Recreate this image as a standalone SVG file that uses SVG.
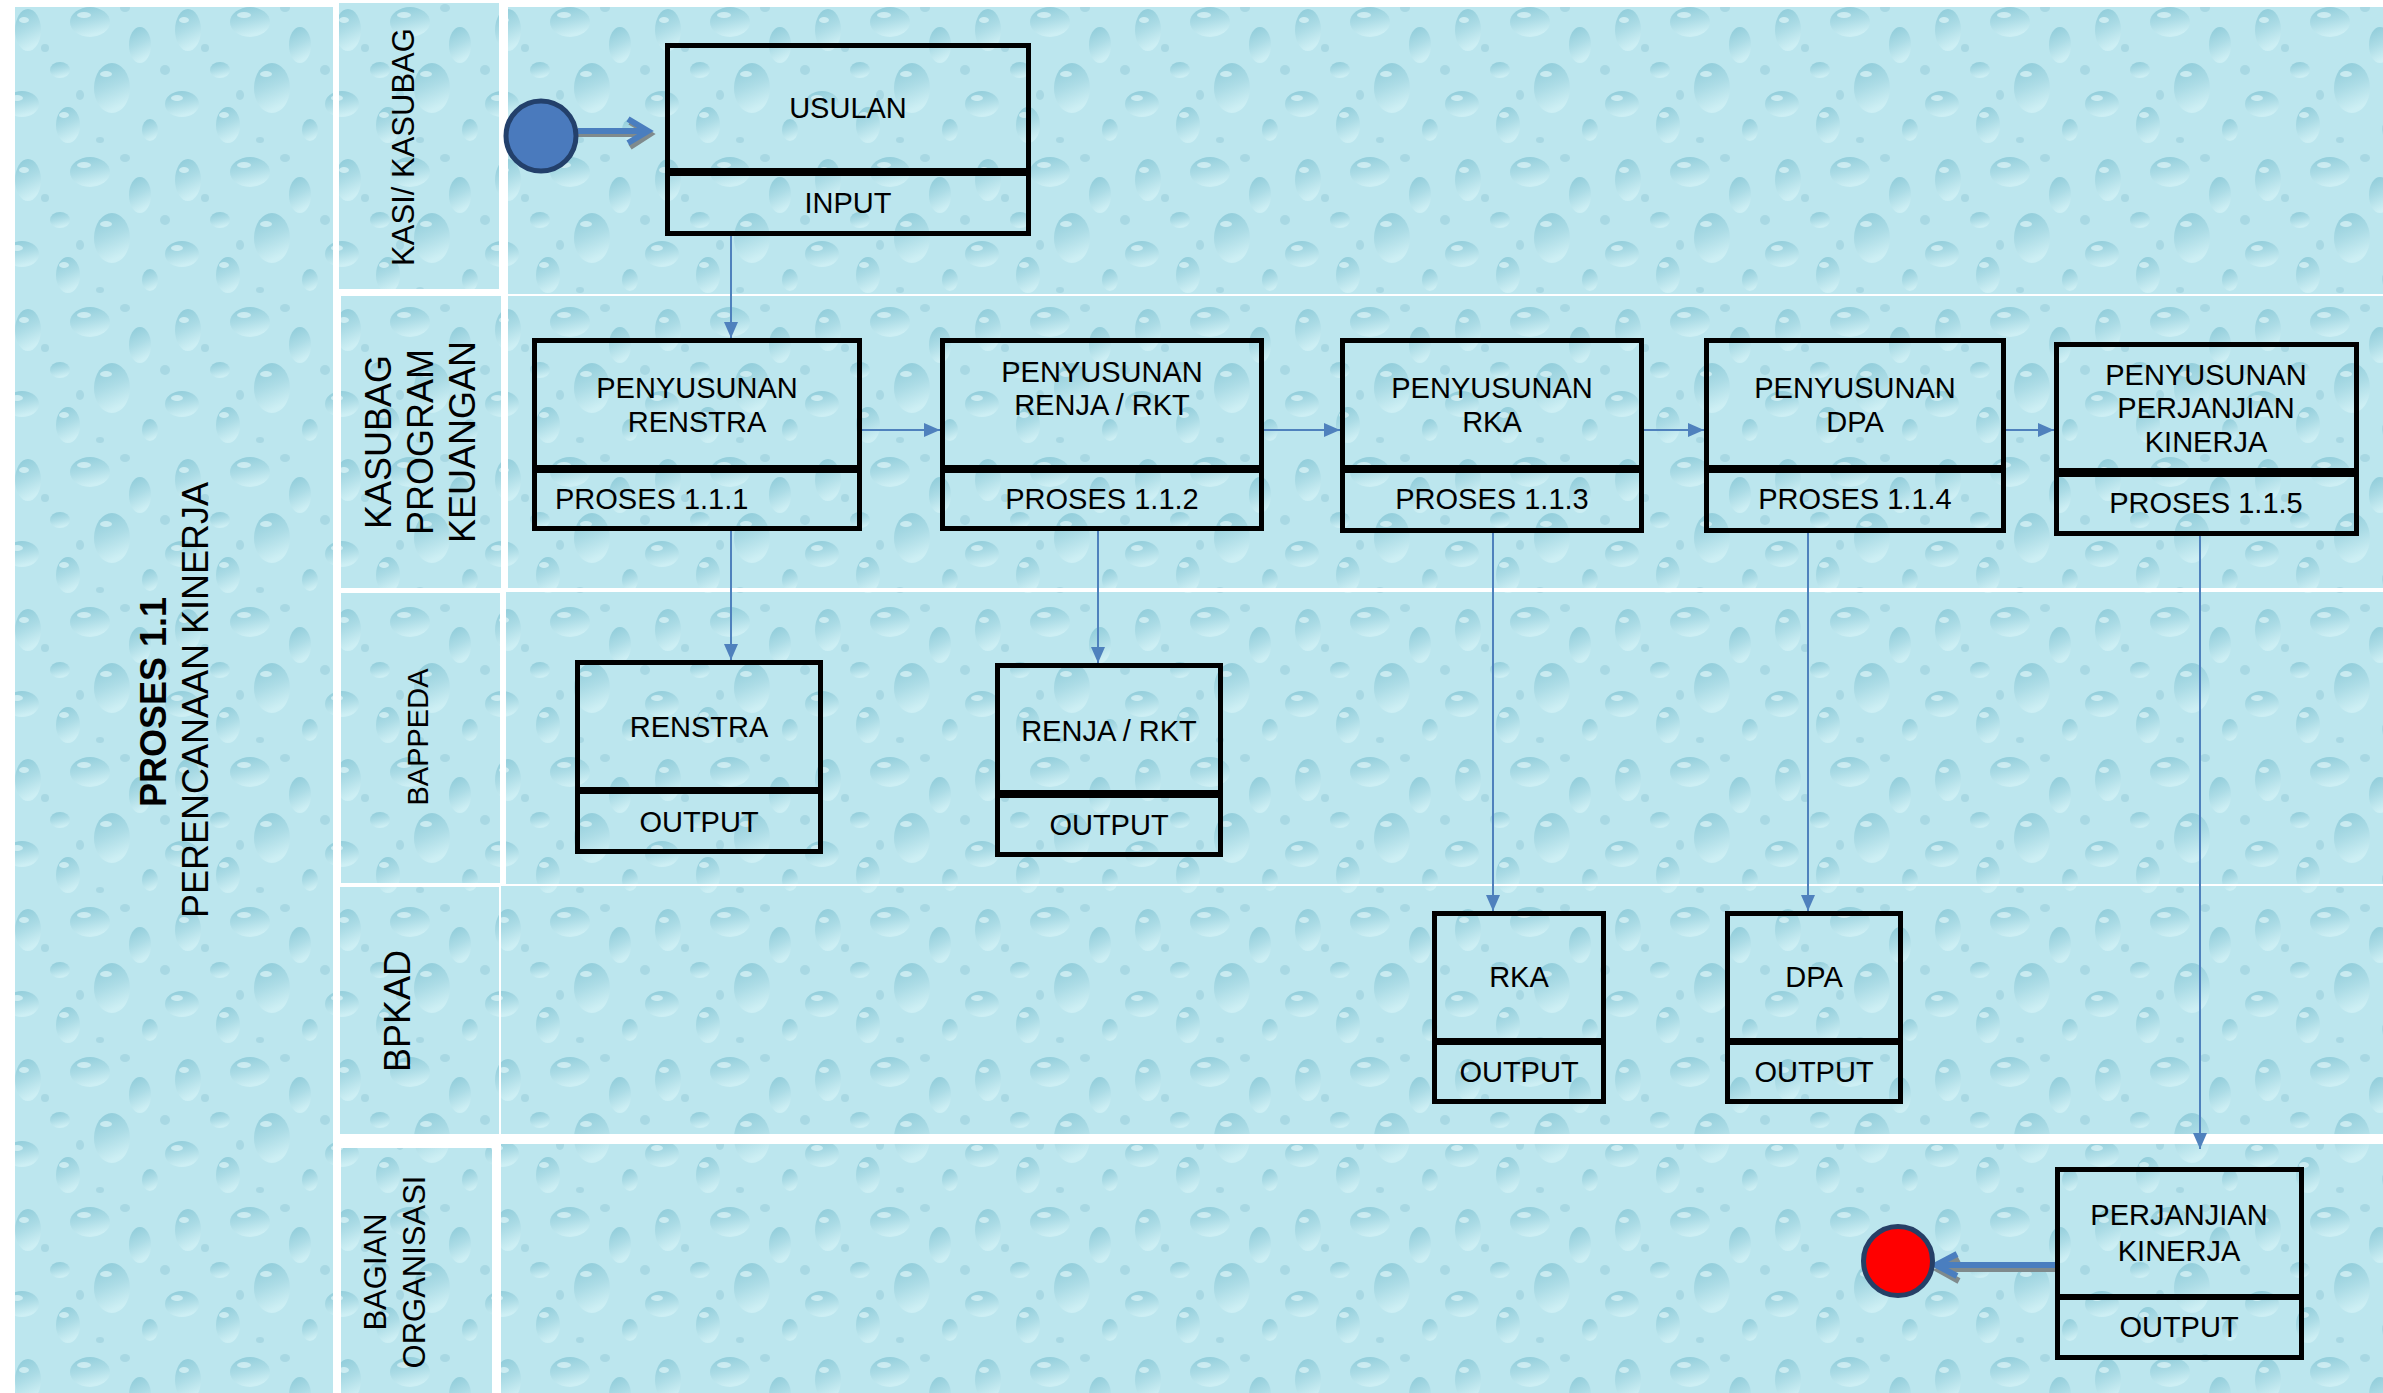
<svg xmlns="http://www.w3.org/2000/svg" width="2383" height="1393" viewBox="0 0 2383 1393">
<defs>
<linearGradient id="dg" x1="0" y1="0" x2="0.3" y2="1">
<stop offset="0" stop-color="#8ccad8"/>
<stop offset="0.55" stop-color="#acdce6"/>
<stop offset="1" stop-color="#cdeff4"/>
</linearGradient>
<pattern id="drops" width="160" height="150" patternUnits="userSpaceOnUse">
<rect width="160" height="150" fill="#bce6ee"/>
<ellipse cx="28" cy="30" rx="13" ry="21" fill="url(#dg)"/>
<ellipse cx="90" cy="22" rx="20" ry="15" fill="url(#dg)"/>
<ellipse cx="140" cy="45" rx="11" ry="18" fill="url(#dg)"/>
<ellipse cx="60" cy="70" rx="10" ry="8" fill="url(#dg)"/>
<ellipse cx="112" cy="88" rx="18" ry="25" fill="url(#dg)"/>
<ellipse cx="22" cy="104" rx="17" ry="13" fill="url(#dg)"/>
<ellipse cx="68" cy="125" rx="12" ry="18" fill="url(#dg)"/>
<ellipse cx="150" cy="130" rx="8" ry="11" fill="url(#dg)"/>
<ellipse cx="45" cy="48" rx="4" ry="4" fill="#a8d8e3"/>
<ellipse cx="125" cy="8" rx="5" ry="4" fill="#a8d8e3"/>
<ellipse cx="80" cy="95" rx="4" ry="5" fill="#a8d8e3"/>
<ellipse cx="5" cy="70" rx="5" ry="5" fill="#a8d8e3"/>
<ellipse cx="100" cy="140" rx="4" ry="3" fill="#a8d8e3"/>
<ellipse cx="24" cy="20" rx="5" ry="3" fill="#e8fafc" opacity="0.6"/>
<ellipse cx="84" cy="15" rx="7" ry="3" fill="#e8fafc" opacity="0.6"/>
<ellipse cx="106" cy="74" rx="6" ry="3" fill="#e8fafc" opacity="0.6"/>
<ellipse cx="17" cy="98" rx="6" ry="3" fill="#e8fafc" opacity="0.6"/>
<ellipse cx="64" cy="115" rx="5" ry="3" fill="#e8fafc" opacity="0.6"/>
</pattern>
<marker id="ah" viewBox="0 0 16 14" refX="16" refY="7" markerWidth="16" markerHeight="14" markerUnits="userSpaceOnUse" orient="auto">
<path d="M0,0 L16,7 L0,14 z" fill="#4f81bd"/>
</marker>
<style>
.tex{fill:url(#drops)}
.t{font-family:"Liberation Sans",Arial,sans-serif;font-size:29px;fill:#000;text-anchor:middle}
.lab{font-family:"Liberation Sans",Arial,sans-serif;fill:#000;text-anchor:middle}
.bx{fill:none;stroke:#000;stroke-width:5}
.conn{fill:none;stroke:#4f81bd;stroke-width:2;marker-end:url(#ah)}
.thick{fill:none;stroke:#4a7ebf;stroke-width:6}
.shadow{fill:none;stroke:#7f8a8c;stroke-width:6}
</style>
</defs>
<rect width="2383" height="1393" fill="#ffffff"/>
<g id="pool">
<rect class="tex" x="15" y="7" width="318" height="1386"/>
<rect class="tex" x="508" y="7" width="1875" height="287"/>
<rect class="tex" x="508" y="296" width="1875" height="292"/>
<rect class="tex" x="506" y="592" width="1877" height="292"/>
<rect class="tex" x="501" y="886" width="1882" height="248"/>
<rect class="tex" x="501" y="1144" width="1882" height="249"/>
<rect class="tex" x="339" y="3" width="160" height="286"/>
<rect class="tex" x="341" y="296" width="160" height="292"/>
<rect class="tex" x="341" y="593" width="159" height="290"/>
<rect class="tex" x="340" y="887" width="159" height="247"/>
<rect class="tex" x="341" y="1148" width="151" height="245"/>
</g>
<g id="title">
<text class="lab" font-size="36" font-weight="bold" transform="translate(166,702) rotate(-90)">PROSES 1.1</text>
<text class="lab" font-size="36" transform="translate(208,700) rotate(-90)">PERENCANAAN KINERJA</text>
</g>
<g id="lane-labels">
<text class="lab" font-size="31" transform="translate(414,147) rotate(-90)">KASI/ KASUBAG</text>
<text class="lab" font-size="36" transform="translate(391,442) rotate(-90)">KASUBAG</text>
<text class="lab" font-size="36" transform="translate(433,442) rotate(-90)">PROGRAM</text>
<text class="lab" font-size="36" transform="translate(475,442) rotate(-90)">KEUANGAN</text>
<text class="lab" font-size="29" transform="translate(428,737) rotate(-90)">BAPPEDA</text>
<text class="lab" font-size="36" transform="translate(410,1011) rotate(-90)">BPKAD</text>
<text class="lab" font-size="31" transform="translate(386,1272) rotate(-90)">BAGIAN</text>
<text class="lab" font-size="31" transform="translate(425,1272) rotate(-90)">ORGANISASI</text>
</g>
<g id="connectors">
<path class="shadow" d="M578,134 L648,134 M630,122 L650,134 L630,147"/>
<path class="thick" d="M578,131 L646,131 M628,119 L648,131 L628,143"/>
<path class="conn" d="M731,236 L731,338"/>
<path class="conn" d="M862,430 L940,430"/>
<path class="conn" d="M1264,430 L1340,430"/>
<path class="conn" d="M1644,430 L1704,430"/>
<path class="conn" d="M2006,430 L2054,430"/>
<path class="conn" d="M731,531 L731,660"/>
<path class="conn" d="M1098,531 L1098,663"/>
<path class="conn" d="M1493,533 L1493,911"/>
<path class="conn" d="M1808,533 L1808,911"/>
<path class="conn" d="M2200,536 L2200,1149"/>
<path class="shadow" d="M2055,1269 L1940,1269 M1959,1259 L1939,1270 L1959,1281"/>
<path class="thick" d="M2055,1265 L1938,1265 M1957,1254 L1936,1265 L1957,1276"/>
</g>
<g id="start">
<circle cx="541" cy="136" r="35" fill="#4a7abd" stroke="#23406b" stroke-width="5"/>
</g>
<g id="end">
<circle cx="1898" cy="1261" r="34.5" fill="#ff0000" stroke="#263f66" stroke-width="5"/>
</g>
<g id="node-usulan">
<rect class="bx" x="667.5" y="45.5" width="361" height="125"/>
<rect class="bx" x="667.5" y="173.5" width="361" height="60"/>
<text class="t" x="848" y="118">USULAN</text>
<text class="t" x="848" y="213">INPUT</text>
</g>
<g id="node-p111">
<rect class="bx" x="534.5" y="340.5" width="325" height="127"/>
<rect class="bx" x="534.5" y="470.5" width="325" height="58"/>
<text class="t" x="697" y="398">PENYUSUNAN</text>
<text class="t" x="697" y="432">RENSTRA</text>
<text class="t" x="555" y="509" style="text-anchor:start">PROSES 1.1.1</text>
</g>
<g id="node-p112">
<rect class="bx" x="942.5" y="340.5" width="319" height="127"/>
<rect class="bx" x="942.5" y="470.5" width="319" height="58"/>
<text class="t" x="1102" y="382">PENYUSUNAN</text>
<text class="t" x="1102" y="415">RENJA / RKT</text>
<text class="t" x="1102" y="509">PROSES 1.1.2</text>
</g>
<g id="node-p113">
<rect class="bx" x="1342.5" y="340.5" width="299" height="127"/>
<rect class="bx" x="1342.5" y="470.5" width="299" height="60"/>
<text class="t" x="1492" y="398">PENYUSUNAN</text>
<text class="t" x="1492" y="432">RKA</text>
<text class="t" x="1492" y="509">PROSES 1.1.3</text>
</g>
<g id="node-p114">
<rect class="bx" x="1706.5" y="340.5" width="297" height="127"/>
<rect class="bx" x="1706.5" y="470.5" width="297" height="60"/>
<text class="t" x="1855" y="398">PENYUSUNAN</text>
<text class="t" x="1855" y="432">DPA</text>
<text class="t" x="1855" y="509">PROSES 1.1.4</text>
</g>
<g id="node-p115">
<rect class="bx" x="2056.5" y="344.5" width="300" height="126"/>
<rect class="bx" x="2056.5" y="474.5" width="300" height="59"/>
<text class="t" x="2206" y="385">PENYUSUNAN</text>
<text class="t" x="2206" y="418">PERJANJIAN</text>
<text class="t" x="2206" y="452">KINERJA</text>
<text class="t" x="2206" y="513">PROSES 1.1.5</text>
</g>
<g id="node-renstra">
<rect class="bx" x="577.5" y="662.5" width="243" height="127"/>
<rect class="bx" x="577.5" y="791.5" width="243" height="60"/>
<text class="t" x="699" y="737">RENSTRA</text>
<text class="t" x="699" y="832">OUTPUT</text>
</g>
<g id="node-renja">
<rect class="bx" x="997.5" y="665.5" width="223" height="127"/>
<rect class="bx" x="997.5" y="795.5" width="223" height="59"/>
<text class="t" x="1109" y="741">RENJA / RKT</text>
<text class="t" x="1109" y="835">OUTPUT</text>
</g>
<g id="node-rka">
<rect class="bx" x="1434.5" y="913.5" width="169" height="127"/>
<rect class="bx" x="1434.5" y="1042.5" width="169" height="59"/>
<text class="t" x="1519" y="987">RKA</text>
<text class="t" x="1519" y="1082">OUTPUT</text>
</g>
<g id="node-dpa">
<rect class="bx" x="1727.5" y="913.5" width="173" height="127"/>
<rect class="bx" x="1727.5" y="1042.5" width="173" height="59"/>
<text class="t" x="1814" y="987">DPA</text>
<text class="t" x="1814" y="1082">OUTPUT</text>
</g>
<g id="node-perjanjian">
<rect class="bx" x="2057.5" y="1169.5" width="244" height="127"/>
<rect class="bx" x="2057.5" y="1297.5" width="244" height="60"/>
<text class="t" x="2179" y="1225">PERJANJIAN</text>
<text class="t" x="2179" y="1261">KINERJA</text>
<text class="t" x="2179" y="1337">OUTPUT</text>
</g>
</svg>
